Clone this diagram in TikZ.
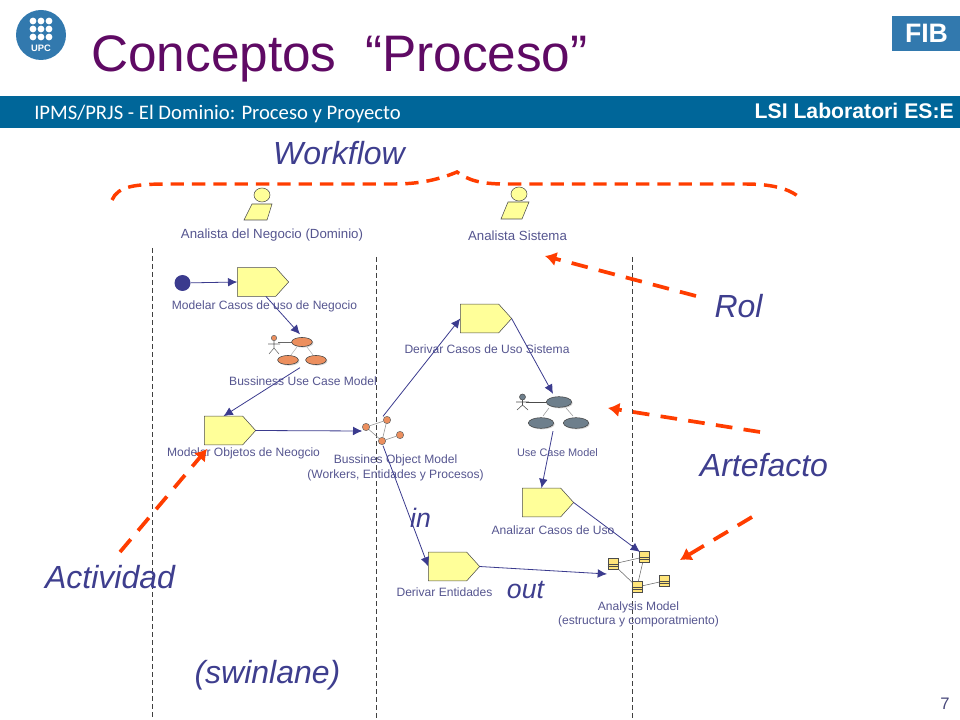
\documentclass[tikz,border=0pt]{standalone}
\usepackage{fontspec}
\setmainfont{Liberation Sans}
\newfontfamily\barfont{Carlito}
\usetikzlibrary{shapes,shapes.symbols,arrows.meta,shadows}
\definecolor{titlecol}{HTML}{5F0A64}
\definecolor{barcol}{HTML}{006699}
\definecolor{logocol}{HTML}{3279AE}
\definecolor{inkcol}{HTML}{3B3B8E}
\definecolor{labelcol}{HTML}{55558F}
\definecolor{notecol}{HTML}{3E3E8E}
\definecolor{redcol}{HTML}{FF3D00}
\definecolor{yellowcol}{HTML}{FFFF99}
\definecolor{peachcol}{HTML}{EC8F5E}
\definecolor{slatecol}{HTML}{6E7F8C}
\tikzset{
  activity/.style={signal, signal to=east, signal from=nowhere, signal pointer angle=96,
    draw=black!70, fill=yellowcol, minimum width=38.5pt, minimum height=21.5pt, inner sep=0pt, outer sep=0pt},
  iconbox/.style={inner sep=0pt, outer sep=0pt},
  caption/.style={text=labelcol, font=\fontsize{9.05pt}{10.5pt}\selectfont, align=center, inner sep=0pt},
  note/.style={text=notecol, font=\fontsize{24pt}{28pt}\selectfont\itshape, inner sep=0pt},
  smallnote/.style={note, font=\fontsize{20pt}{24pt}\selectfont\itshape},
  flow/.style={-{Latex[length=7pt,width=6.5pt]}, inkcol, line width=0.6pt},
  dashline/.style={redcol, line width=2.6pt, dash pattern=on 10pt off 6pt},
  callout/.style={-{Latex[length=8.5pt,width=11pt]}, redcol, line width=2.8pt, dash pattern=on 12.5pt off 8.5pt},
  usecase/.style={ellipse, draw=black!75, inner sep=0pt, drop shadow={shadow xshift=0.8pt, shadow yshift=-0.8pt, opacity=.35}},
  ball/.style={circle, draw=black!60, fill=peachcol, minimum size=5.5pt, inner sep=0pt},
  klass/.style={draw=black!70, fill=yellowcol!80!orange, minimum width=7.5pt, minimum height=8pt, inner sep=0pt,
    drop shadow={shadow xshift=0.8pt, shadow yshift=-0.8pt, opacity=.35}},
  lane/.style={black!75, thin, dash pattern=on 3.5pt off 2.5pt},
  person/.style={draw=black!70, fill=yellowcol}
}
\begin{document}
\begin{tikzpicture}[x=0.75pt,y=-0.75pt]
    \useasboundingbox (0,0) rectangle (960,720);

    % header
    \fill[barcol] (0,96) rectangle (960,128);
    \node (title) [text=titlecol, font=\fontsize{38.5pt}{44pt}\selectfont, anchor=base west, inner sep=0pt] at (91,72) {Conceptos~~“Proceso”};
    \node (barleft) [text=white, font=\fontsize{15.5pt}{18pt}\selectfont\barfont, anchor=base west, inner sep=0pt] at (34,120) {IPMS/PRJS - El Dominio: Proceso y Proyecto};
    \node (barright) [text=white, font=\fontsize{15.9pt}{18pt}\selectfont\bfseries, anchor=base east, inner sep=0pt] at (954,119) {LSI Laboratori ES:E};
    \node (pageno) [text=labelcol!85!black, font=\fontsize{12.5pt}{14pt}\selectfont, inner sep=0pt] at (945,704) {7};

    % logos
    \fill[logocol] (41,35) circle [radius=25];
    \foreach \i in {0,1,2} \foreach \j in {0,1,2}
        \fill[white] (33+8*\i,21+\j*8) circle [radius=3.4];
    \node (upc) [text=white, font=\fontsize{7pt}{8pt}\selectfont\bfseries, inner sep=0pt] at (41,48.5) {UPC};
    \fill[logocol] (892,16) rectangle (960,51);
    \node (fib) [text=white, font=\fontsize{20pt}{22pt}\selectfont\bfseries, inner sep=0pt] at (926.5,33.5) {FIB};

    % swimlanes
    \draw[lane] (152,248) -- (152,720);
    \draw[lane] (376,257) -- (376,720);
    \draw[lane] (632,257) -- (632,720);

    % roles
    \draw[person] (262,195) ellipse [x radius=8, y radius=7];
    \draw[person] (252,204) -- (272,204) -- (267,220) -- (244,220) -- cycle;
    \draw[person] (519,194) ellipse [x radius=8, y radius=7];
    \draw[person] (508,202) -- (529,202) -- (522,219) -- (501,219) -- cycle;
    \node (role1) [caption, font=\fontsize{9.95pt}{11pt}\selectfont] at (272,235.5) {Analista del Negocio (Dominio)};
    \node (role2) [caption, font=\fontsize{9.95pt}{11pt}\selectfont] at (517.5,235.5) {Analista Sistema};

    % activities
    \node (start) [circle, fill=inkcol, minimum size=12pt, inner sep=0pt] at (182.5,283) {};
    \node (act1) [activity] at (256.5,282) {};
    \node (act2) [activity] at (223.5,430.5) {};
    \node (act3) [activity] at (479.5,318.5) {};
    \node (act4) [activity] at (541.5,502.5) {};
    \node (act5) [activity] at (447.5,566.5) {};
    \node (cap1) [caption] at (264.5,306) {Modelar Casos de uso de Negocio};
    \node (cap2) [caption] at (243.5,453) {Modelar Objetos de Neogcio};
    \node (cap3) [caption] at (487,349) {Derivar Casos de Uso Sistema};
    \node (cap4) [caption] at (553,530) {Analizar Casos de Uso};
    \node (cap5) [caption] at (444.5,592) {Derivar Entidades};

    % business use case model
    \node (bucm) [iconbox, minimum width=45pt, minimum height=25pt] at (300,351) {};
    \draw[black!60] (278,342) -- (293,342);
    \draw[black!60] (274,341) -- (274,348) (268,344) -- (280,344) (274,348) -- (269,354) (274,348) -- (279,354);
    \draw[black!60, fill=peachcol] (274,338) circle [radius=2.7];
    \draw[black!30] (297,347) -- (291,355) (307,347) -- (313,355);
    \node (ucA) [usecase, fill=peachcol, minimum width=15.5pt, minimum height=6.8pt] at (302,342) {};
    \node (ucB) [usecase, fill=peachcol, minimum width=15.5pt, minimum height=6.8pt] at (288,360) {};
    \node (ucC) [usecase, fill=peachcol, minimum width=15.5pt, minimum height=6.8pt] at (316,360) {};
    \node (bucmcap) [caption] at (303,381) {Bussiness Use Case Model};

    % business object model
    \node (bom) [iconbox, minimum width=31pt, minimum height=22pt] at (383,431) {};
    \node (ballA) [ball] at (366,427) {};
    \node (ballB) [ball] at (387,420) {};
    \node (ballC) [ball] at (382,441) {};
    \node (ballD) [ball] at (400,435) {};
    \draw[black!45] (ballA) -- (ballB);
    \draw[black!45] (ballA) -- (ballC);
    \draw[black!45] (ballB) -- (ballC);
    \draw[black!45] (ballC) -- (ballD);
    \node (bomcap) [caption, font=\fontsize{9.05pt}{11pt}\selectfont] at (395.5,468) {Bussines Object Model\\(Workers, Entidades y Procesos)};

    % use case model
    \node (ucm) [iconbox, minimum width=52pt, minimum height=28pt] at (553,412.5) {};
    \draw[black!70] (526,402) -- (546,402);
    \draw[black!70] (522.5,399) -- (522.5,405) (516,402) -- (529,402) (522.5,405) -- (517,410) (522.5,405) -- (528,410);
    \draw[black!70, fill=slatecol] (522.5,397) circle [radius=3];
    \draw[black!40] (549,408) -- (543,416) (566,408) -- (573,416);
    \node (umA) [usecase, fill=slatecol, minimum width=19pt, minimum height=8pt] at (559,402) {};
    \node (umB) [usecase, fill=slatecol, minimum width=19pt, minimum height=8pt] at (541,423) {};
    \node (umC) [usecase, fill=slatecol, minimum width=19pt, minimum height=8pt] at (576,423) {};
    \node (ucmcap) [caption, font=\fontsize{8.2pt}{9pt}\selectfont] at (557.5,453) {Use Case Model};

    % analysis model
    \node (am) [iconbox, minimum width=49.5pt, minimum height=33pt] at (640,574) {};
    \draw[black!60] (613,564) -- (644,557);
    \draw[black!60] (613,564) -- (637,587);
    \draw[black!60] (644,557) -- (637,587);
    \draw[black!60] (637,587) -- (664,581);
    \node (boxA) [klass] at (613,564) {};
    \node (boxB) [klass] at (644,557) {};
    \node (boxC) [klass] at (637,587) {};
    \node (boxD) [klass] at (664,581) {};
    \foreach \n in {boxA,boxB,boxC,boxD}
        \draw[black!70] (\n.west) -- (\n.east) ([yshift=-1.8pt]\n.west) -- ([yshift=-1.8pt]\n.east);
    \node (amcap) [caption] at (638.5,614) {Analysis Model\\(estructura y comporatmiento)};

    % flow
    \draw[flow] (start) -- (act1.west);
    \draw[flow] ([xshift=7pt]act1.south) -- (bucm.north);
    \draw[flow] (bucm.south) -- (act2.north);
    \draw[flow] (act2.east) -- (bom.west);
    \draw[flow] (bom.north) -- (act3.west);
    \draw[flow] (bom.south) -- (act5.west);
    \draw[flow] (act3.east) -- (ucm.north);
    \draw[flow] (ucm.south) -- (act4.north);
    \draw[flow] (act4.east) -- (am.north);
    \draw[flow] (act5.east) -- (am.west);

    % notes
    \node (workflow) [note] at (339,153) {Workflow};
    \node (rol) [note] at (738.5,306) {Rol};
    \node (artefacto) [note] at (764,465.5) {Artefacto};
    \node (actividad) [note] at (110,577) {Actividad};
    \node (swim) [note] at (267.5,675) {(swinlane)};
    \node (in) [smallnote] at (420.5,518) {in};
    \node (out) [smallnote] at (525.5,590) {out};

    % brace and callouts
    \draw[dashline]
        (112,200) .. controls (118,186) and (135,184) .. (170,184) -- (395,184)
        .. controls (425,184) and (445,177) .. (457,172)
        .. controls (468,180) and (480,184) .. (505,184) -- (745,184)
        .. controls (770,184) and (790,188) .. (801,199);
    \coordinate (rolfrom) at (696,296);
    \coordinate (rolto) at (545,256);
    \coordinate (artfrom) at (760,432);
    \coordinate (artto) at (608,408);
    \coordinate (art2from) at (752,517);
    \coordinate (art2to) at (680,560);
    \coordinate (actfrom) at (120,552);
    \coordinate (actto) at (207,449);
    \draw[callout] (rolfrom) -- (rolto);
    \draw[callout] (artfrom) -- (artto);
    \draw[callout] (art2from) -- (art2to);
    \draw[callout] (actfrom) -- (actto);
\end{tikzpicture}
\end{document}
